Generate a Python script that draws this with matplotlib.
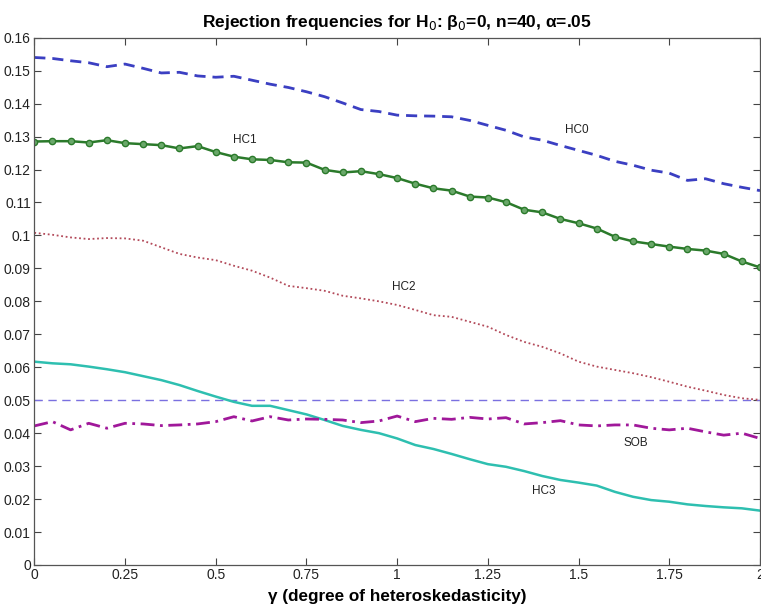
import numpy as np
import matplotlib
matplotlib.use("Agg")
import matplotlib.pyplot as plt

plt.rcParams['font.family'] = ['Liberation Sans', 'DejaVu Sans']

gamma = [i * 0.05 for i in range(41)]

hc0 = [0.1540, 0.1537, 0.1530, 0.1524, 0.1512, 0.1520, 0.1507, 0.1493, 0.1495, 0.1484,
       0.1480, 0.1483, 0.1471, 0.1459, 0.1449, 0.1436, 0.1421, 0.1402, 0.1382, 0.1376,
       0.1365, 0.1363, 0.1362, 0.1360, 0.1349, 0.1334, 0.1319, 0.1299, 0.1289, 0.1273,
       0.1258, 0.1243, 0.1225, 0.1213, 0.1198, 0.1189, 0.1167, 0.1172, 0.1157, 0.1146,
       0.1136]

hc1 = [0.1285, 0.1286, 0.1286, 0.1282, 0.1289, 0.1280, 0.1277, 0.1274, 0.1264, 0.1271,
       0.1253, 0.1239, 0.1231, 0.1229, 0.1222, 0.1221, 0.1199, 0.1191, 0.1195, 0.1186,
       0.1174, 0.1157, 0.1143, 0.1136, 0.1118, 0.1115, 0.1101, 0.1078, 0.1070, 0.1050,
       0.1037, 0.1021, 0.0996, 0.0982, 0.0974, 0.0966, 0.0959, 0.0954, 0.0944, 0.0921,
       0.0903]

hc2 = [0.1008, 0.1002, 0.0994, 0.0989, 0.0992, 0.0991, 0.0984, 0.0964, 0.0944, 0.0933,
       0.0925, 0.0908, 0.0893, 0.0872, 0.0847, 0.0840, 0.0832, 0.0817, 0.0809, 0.0800,
       0.0789, 0.0774, 0.0758, 0.0753, 0.0738, 0.0723, 0.0698, 0.0677, 0.0662, 0.0642,
       0.0617, 0.0602, 0.0592, 0.0582, 0.0570, 0.0556, 0.0541, 0.0529, 0.0516, 0.0506,
       0.0501]

hc3 = [0.0617, 0.0612, 0.0609, 0.0602, 0.0594, 0.0585, 0.0573, 0.0561, 0.0546, 0.0528,
       0.0511, 0.0495, 0.0483, 0.0483, 0.0470, 0.0457, 0.0440, 0.0422, 0.0410, 0.0400,
       0.0384, 0.0364, 0.0352, 0.0337, 0.0321, 0.0306, 0.0298, 0.0285, 0.0270, 0.0258,
       0.0250, 0.0241, 0.0222, 0.0207, 0.0197, 0.0192, 0.0184, 0.0179, 0.0175, 0.0172,
       0.0165]

sob = [0.0422, 0.0435, 0.0410, 0.0430, 0.0415, 0.0430, 0.0428, 0.0423, 0.0425, 0.0428,
       0.0435, 0.0450, 0.0437, 0.0450, 0.0440, 0.0443, 0.0442, 0.0440, 0.0432, 0.0437,
       0.0452, 0.0435, 0.0445, 0.0442, 0.0448, 0.0443, 0.0447, 0.0428, 0.0432, 0.0438,
       0.0425, 0.0422, 0.0425, 0.0425, 0.0415, 0.0410, 0.0415, 0.0404, 0.0394, 0.0400,
       0.0384]

nominal = 0.05

xticks = [0, 0.25, 0.5, 0.75, 1, 1.25, 1.5, 1.75, 2]
xticklabels = ["0", "0.25", "0.5", "0.75", "1", "1.25", "1.5", "1.75", "2"]
yticks = [i / 100 for i in range(17)]
yticklabels = ["0", "0.01", "0.02", "0.03", "0.04", "0.05", "0.06", "0.07", "0.08",
               "0.09", "0.1", "0.11", "0.12", "0.13", "0.14", "0.15", "0.16"]

labels = [("HC0", 1.494, 0.132), ("HC1", 0.58, 0.129), ("HC2", 1.018, 0.0844),
          ("SOB", 1.657, 0.0370), ("HC3", 1.403, 0.0224)]

fig = plt.figure(figsize=(7.61, 6.10), dpi=100)
ax = fig.add_axes([34.3 / 761, 45 / 610, (760 - 34.3) / 761, (565 - 37.7) / 610])

ax.axhline(nominal, color='#7a70e0', lw=1.0, ls=(0, (6, 4)))
ax.plot(gamma, hc0, color='#3b3fc2', lw=2.0, ls=(0, (4, 2.5)))
ax.plot(gamma, hc1, color='#2b7a2b', lw=1.8, marker='o', ms=4.5,
        markerfacecolor='#6aa86a', markeredgecolor='#2b7a2b', markeredgewidth=1.0)
ax.plot(gamma, hc2, color='#b34a5a', lw=1.3, ls=(0, (1, 1.5)))
ax.plot(gamma, hc3, color='#2ebfb0', lw=1.8)
ax.plot(gamma, sob, color='#a0189a', lw=2.0, ls=(0, (5, 2, 1, 2)))

for txt, x, y in labels:
    ax.text(x, y, txt, fontsize=8.5, ha='center', va='center', color='#222222')

ax.set_xlim(0, 2)
ax.set_ylim(0, 0.16)
ax.set_xticks(xticks)
ax.set_xticklabels(xticklabels)
ax.set_yticks(yticks)
ax.set_yticklabels(yticklabels)
ax.tick_params(direction='in', length=5, width=0.8, top=True, right=True,
               labelsize=10, color='#444444', labelcolor='#222222', pad=2.5)
for s in ax.spines.values():
    s.set_color('#555555')
    s.set_linewidth(0.9)

ax.set_title(r"Rejection frequencies for H$_0$: β$_0$=0, n=40, α=.05",
             fontsize=12.5, fontweight='bold', pad=8)
ax.set_xlabel("γ (degree of heteroskedasticity)", fontsize=12.3, fontweight='bold', labelpad=5)

fig.savefig("out.png", dpi=100)
